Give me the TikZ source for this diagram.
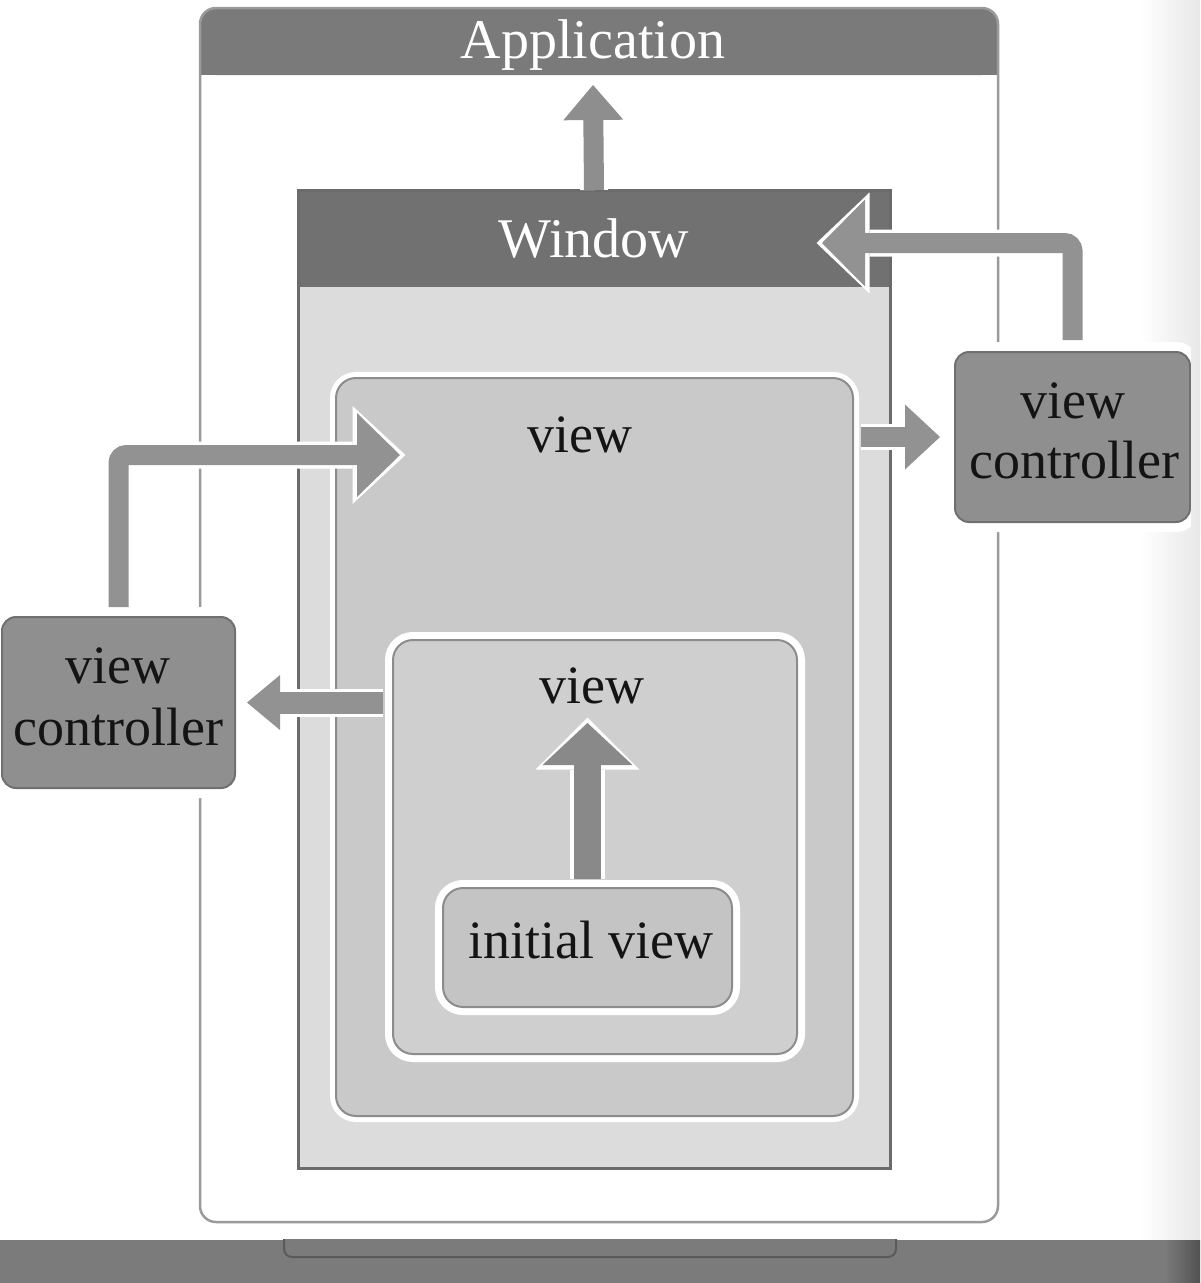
\documentclass[tikz,border=0pt]{standalone}
\usepackage{fontspec}
\setmainfont{Liberation Serif}
\usetikzlibrary{arrows.meta,calc}
\definecolor{appgray}{HTML}{7A7A7A}
\definecolor{appline}{HTML}{9A9A9A}
\definecolor{wingray}{HTML}{717171}
\definecolor{winline}{HTML}{6B6B6B}
\definecolor{winbody}{HTML}{DCDCDC}
\definecolor{viewfill}{HTML}{C9C9C9}
\definecolor{viewline}{HTML}{8C8C8C}
\definecolor{iviewfill}{HTML}{CFCFCF}
\definecolor{initfill}{HTML}{C4C4C4}
\definecolor{vcfill}{HTML}{8F8F8F}
\definecolor{vcline}{HTML}{707070}
\definecolor{arrgray}{HTML}{929292}
\definecolor{barcol}{HTML}{7B7B7B}
\definecolor{tabline}{HTML}{5A5A5A}
\tikzset{
  box/.style={rectangle, inner sep=0pt, outer sep=0pt},
  viewbox/.style={box, fill=#1, draw=viewline, line width=2pt, rounded corners=20pt},
  vcbox/.style={box, fill=vcfill, draw=vcline, line width=2pt, rounded corners=14pt,
     preaction={draw=white, line width=20pt}},
  fat/.style n args={3}{draw=arrgray, line width=#1pt,
     -{Triangle[length=#2pt,width=#3pt,line width=0pt]}},
  wlbl/.style={inner sep=0pt, text=white, font=\fontsize{56pt}{60pt}\selectfont},
  blbl/.style={inner sep=0pt, text=black!92, font=\fontsize{54pt}{60pt}\selectfont},
}
\begin{document}
\begin{tikzpicture}[x=1pt,y=-1pt]
\useasboundingbox (0,0) rectangle (1200,1283);
\fill[white] (0,0) rectangle (1200,1283);
\shade[left color=white, right color=black!9] (1140,0) rectangle (1200,1240);
% bottom bar
\fill[barcol] (0,1240) rectangle (1200,1283);
\shade[left color=barcol, right color=black!68] (1165,1240) rectangle (1200,1283);
\draw[tabline, line width=2pt, fill=barcol, rounded corners=8pt]
  (284,1239) -- (284,1257) -- (896,1257) -- (896,1239);
% application
\node[box, fill=white, minimum width=798pt, minimum height=1214pt] (app) at (599,615) {};
\fill[appgray, rounded corners=16pt] (app.north west) rectangle ($(app.north east)+(0,67)$);
\fill[appgray] ($(app.north west)+(0,30)$) rectangle ($(app.north east)+(0,67)$);
\draw[appline, line width=2.5pt, rounded corners=16pt] (app.north west) rectangle (app.south east);
\coordinate (apptip) at (593,85);
% view controllers
\node[vcbox, minimum width=235pt, minimum height=170pt] (rvc) at (1072.5,437) {};
\shade[left color=black!7.6, right color=black!9] (1191.2,338) rectangle (1200,536);
\node[vcbox, minimum width=233pt, minimum height=171pt] (lvc) at (118.5,702.5) {};
% window
\node[box, fill=winbody, minimum width=592pt, minimum height=978pt] (win) at (594,679) {};
\fill[wingray] (win.north west) rectangle ($(win.north east)+(0,97)$);
\draw[winline, line width=3pt] (win.north west) rectangle (win.south east);
\coordinate (wintip) at (822,243);
% views
\node[viewbox=viewfill, preaction={draw=white, line width=12pt},
      minimum width=517pt, minimum height=738pt] (view) at (594.5,747) {};
\coordinate (viewtip) at (400,455);
\node[viewbox=iviewfill, preaction={draw=white, line width=16pt},
      minimum width=404pt, minimum height=414pt] (iview) at (595,847) {};
\node[viewbox=initfill, preaction={draw=white, line width=16pt},
      minimum width=289pt, minimum height=119pt] (init) at (587.5,947.5) {};
\coordinate (ivtip) at (588,723);
% arrows: window -> application
\draw[fat={28}{45}{74}, draw=white, shorten >=-5.5pt] (win.north) -- (apptip);
\draw[fat={20}{35}{60}, draw=arrgray!97!black] (win.north) -- (apptip);
% right view controller -> window
\draw[fat={27}{53}{101}, draw=white, shorten <=12pt, shorten >=-5.5pt, rounded corners=8pt]
  (rvc.north) |- (wintip);
\draw[fat={20}{43}{87}, shorten <=12pt, rounded corners=8pt] (rvc.north) |- (wintip);
% left view controller -> view
\draw[fat={27}{53}{98}, draw=white, shorten <=10pt, shorten >=-5.5pt, rounded corners=8pt]
  (lvc.north) |- (viewtip);
\draw[fat={20}{43}{84}, shorten <=10pt, rounded corners=8pt] (lvc.north) |- (viewtip);
% view -> right view controller
\draw[fat={26}{45}{79}, draw=white, shorten <=8pt, shorten >=9.5pt]
  (view.east |- rvc.west) -- (rvc.west);
\draw[fat={20}{35}{65}, shorten <=8pt, shorten >=15pt] (view.east |- rvc.west) -- (rvc.west);
% inner view -> left view controller
\draw[fat={28}{43}{69}, draw=white, shorten <=10pt, shorten >=6.5pt]
  (iview.west |- lvc.east) -- (lvc.east);
\draw[fat={22}{33}{55}, shorten <=10pt, shorten >=12pt] (iview.west |- lvc.east) -- (lvc.east);
% initial view -> inner view
\draw[fat={35}{52}{104}, draw=white, shorten <=9pt, shorten >=-5.5pt]
  (init.north) -- (init.north |- ivtip);
\draw[fat={27}{42}{90}, draw=arrgray!94!black, shorten <=9pt] (init.north) -- (init.north |- ivtip);
% labels
\node[wlbl, anchor=base] (tapp) at (593,58) {Application};
\node[wlbl, anchor=base] (twin) at (594,257) {Window};
\node[blbl, anchor=base] (tview1) at (580,452) {view};
\node[blbl, anchor=base] (tview2) at (592,703) {view};
\node[blbl, anchor=base] (tinit) at (591,958) {initial view};
\node[blbl, anchor=base] (trv1) at (1073,418) {view};
\node[blbl, anchor=base] (trv2) at (1074,478) {controller};
\node[blbl, anchor=base] (tlv1) at (118,683) {view};
\node[blbl, anchor=base] (tlv2) at (118,745) {controller};
\end{tikzpicture}
\end{document}
